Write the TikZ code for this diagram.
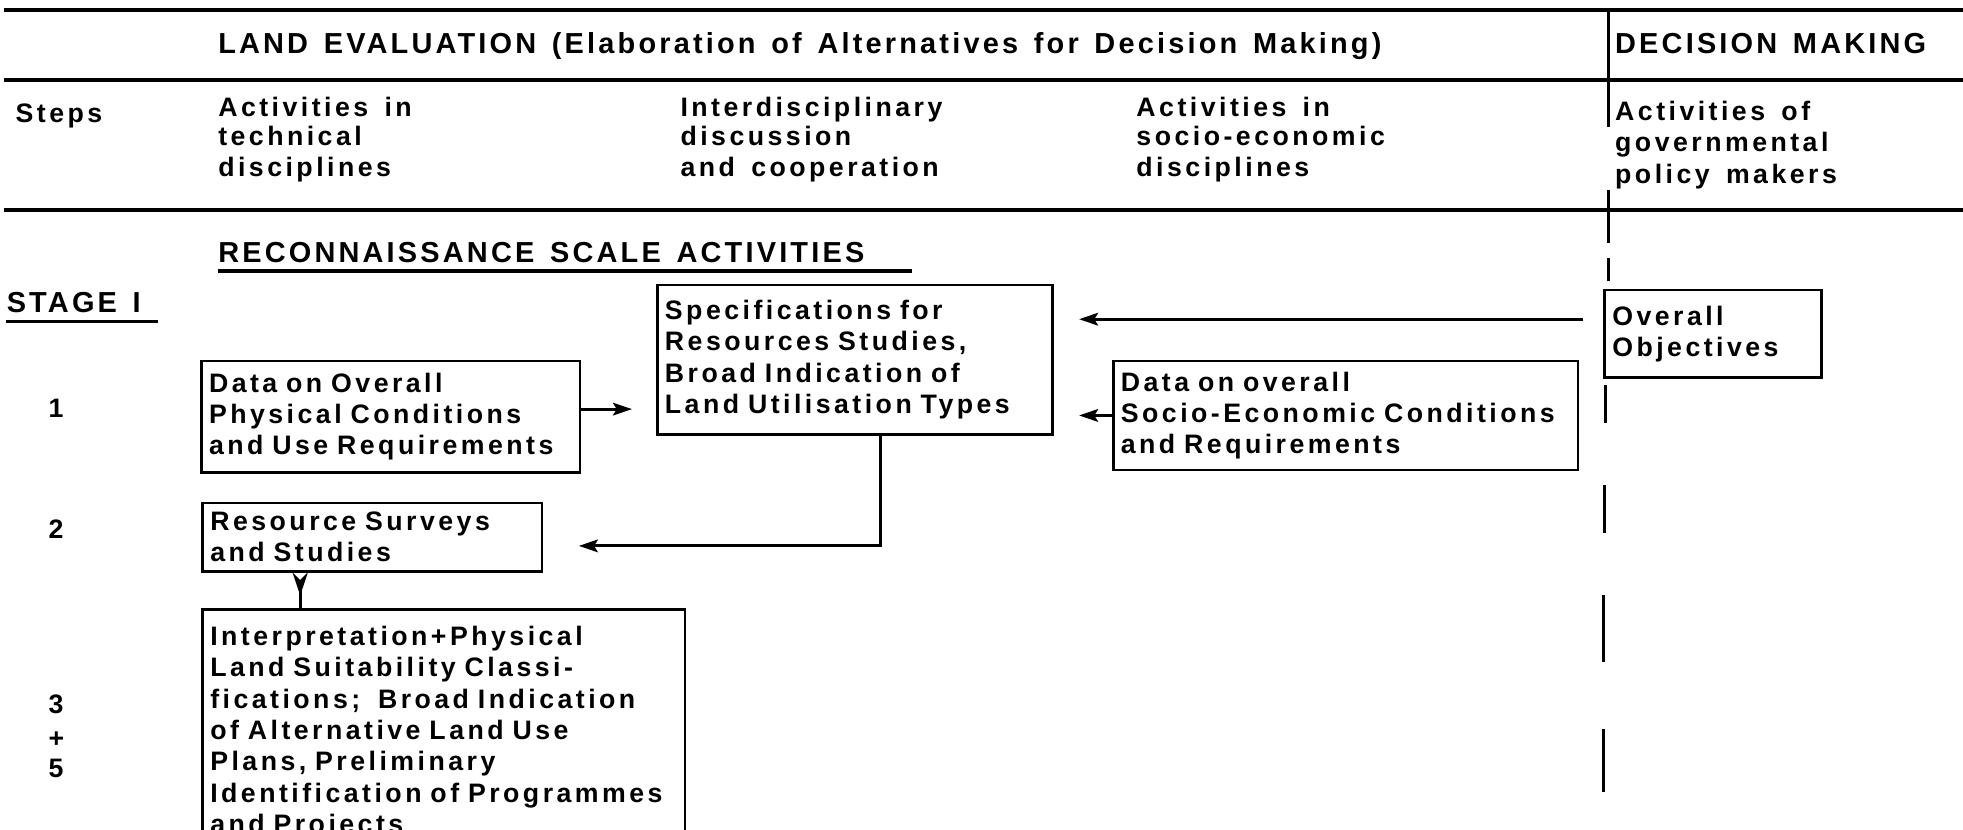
\documentclass[tikz,border=0pt]{standalone}
\usepackage{fontspec}
\newfontfamily\lab{Liberation Sans}[LetterSpace=13, WordSpace=1.5]
\newfontfamily\labh{Liberation Sans}[LetterSpace=11, WordSpace=1.4]
\usetikzlibrary{arrows.meta}
\begin{document}
\begin{tikzpicture}[x=0.02cm,y=-0.02cm,
  txt/.style={anchor=base west, inner sep=0, font=\lab\bfseries\fontsize{12}{14}\selectfont},
  htxt/.style={anchor=base west, inner sep=0, font=\labh\bfseries\fontsize{13}{14}\selectfont},
  box/.style={draw, line width=1.2pt, anchor=north west, inner xsep=0.12cm, inner ysep=0pt, align=left,
    font=\lab\bfseries\fontsize{12}{14.06}\selectfont},
  rule/.style={line width=1.7pt},
  vline/.style={line width=1.3pt},
  arr/.style={line width=1.3pt, -{Stealth[length=0.3cm,width=0.2cm,inset=0.06cm]}}]
\clip (0,0) rectangle (1550,655);
\fill[white] (0,0) rectangle (1550,655);
% rules
\draw[rule] (3,8) -- (1550,8);
\draw[rule] (3,63) -- (1550,63);
\draw[rule] (3,166) -- (1550,166);
% vertical (dashed) separator
\draw[vline] (1270,8) -- (1270,100);
\draw[vline] (1270,150) -- (1270,192);
\draw[vline] (1270,204) -- (1270,222);
\draw[vline] (1268,304) -- (1268,334);
\draw[vline] (1267,383) -- (1267,421);
\draw[vline] (1266,470) -- (1266,523);
\draw[vline] (1266,576) -- (1266,625);
% header texts
\node[htxt] (h1) at (172,42) {LAND EVALUATION (Elaboration of Alternatives for Decision Making)};
\node[htxt] (h2) at (1275,42) {DECISION MAKING};
\node[txt] (st) at (12,97) {Steps};
\node[txt] (c1a) at (172,92) {Activities in};
\node[txt] (c1b) at (172,115) {technical};
\node[txt] (c1c) at (172,139) {disciplines};
\node[txt] (c2a) at (537,92) {Interdisciplinary};
\node[txt] (c2b) at (537,115) {discussion};
\node[txt] (c2c) at (537,139) {and cooperation};
\node[txt] (c3a) at (897,92) {Activities in};
\node[txt] (c3b) at (897,115) {socio-economic};
\node[txt] (c3c) at (897,139) {disciplines};
\node[txt] (c4a) at (1275,95) {Activities of};
\node[txt] (c4b) at (1275,120) {governmental};
\node[txt] (c4c) at (1275,145) {policy makers};
% section titles
\node[htxt] (rec) at (172,207) {RECONNAISSANCE SCALE ACTIVITIES};
\draw[line width=1.4pt] (172,214) -- (720,214);
\node[htxt] (stg) at (5,247) {STAGE I};
\draw[line width=1.4pt] (5,254) -- (125,254);
% step numbers
\node[txt] (n1) at (38,330) {1};
\node[txt] (n2) at (38,425) {2};
\node[txt] (n3) at (38,563) {3};
\node[txt] (n4) at (38,590) {+};
\node[txt] (n5) at (38,614) {5};
% boxes
\node[box, text width=5.74cm, minimum height=1.76cm] (A) at (158,284)
  {Data on Overall\\Physical Conditions\\and Use Requirements};
\node[box, text width=6.0cm, minimum height=2.36cm] (B) at (518,224)
  {Specifications for\\Resources Studies,\\Broad Indication of\\Land Utilisation Types};
\node[box, text width=7.1cm, minimum height=1.72cm] (C) at (878,284)
  {Data on overall\\Socio-Economic Conditions\\and Requirements};
\node[box, text width=3.18cm, minimum height=1.38cm] (D) at (1266,228)
  {Overall\\Objectives};
\node[box, text width=5.12cm, minimum height=1.08cm] (E) at (159,396)
  {Resource Surveys\\and Studies};
\node[box, text width=7.38cm, inner ysep=0.27cm] (F) at (159,480)
  {Interpretation+Physical\\Land Suitability Classi-\\fications;\ \ Broad Indication\\of Alternative Land Use\\Plans, Preliminary\\Identification of Programmes\\and Projects};
% connectors
\draw[arr, shorten >=0.38cm] ([yshift=0.12cm]A.east) -- ([yshift=0.12cm]A.east -| B.west);
\draw[arr, shorten <=0.32cm, shorten >=0.4cm] ([yshift=0.23cm]D.west) -- ([yshift=0.23cm]D.west -| B.east);
\draw[arr, shorten >=0.4cm] (C.west) -- (C.west -| B.east);
\draw[arr, shorten >=0.56cm] ([xshift=0.4cm]B.south) |- ([yshift=-0.14cm]E.east);
\draw[line width=1.3pt, {Stealth[reversed,length=0.36cm,width=0.24cm]}-] ([xshift=-1.14cm]E.south) -- ([xshift=-1.14cm]E.south |- F.north);
\end{tikzpicture}
\end{document}
